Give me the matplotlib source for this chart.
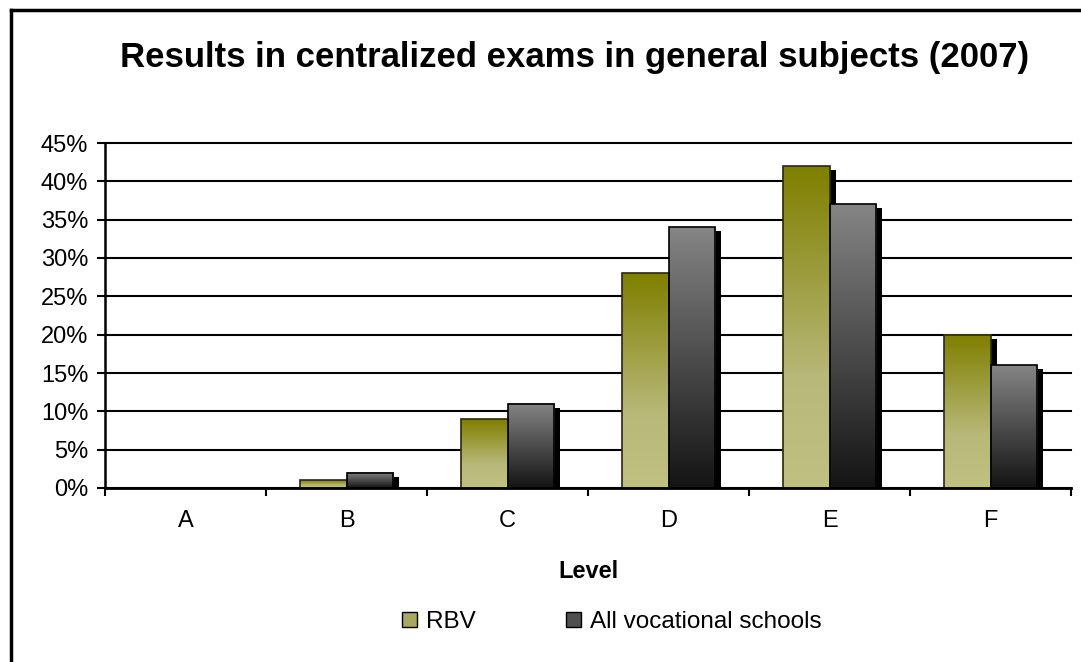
import matplotlib.pyplot as plt
import numpy as np
from matplotlib.colors import LinearSegmentedColormap
from matplotlib.patches import Rectangle, Patch
from matplotlib.lines import Line2D

levels = ['A', 'B', 'C', 'D', 'E', 'F']
rbv = [0, 1, 9, 28, 42, 20]
all_voc = [0, 2, 11, 34, 37, 16]
series_names = ['RBV', 'All vocational schools']

plt.rcParams['font.family'] = ['Liberation Sans', 'DejaVu Sans']

fig = plt.figure(figsize=(10.81, 6.62), dpi=100)
ax = fig.add_axes([105 / 1081, 1 - 488 / 662, 966 / 1081, 345 / 662])

# olive -> khaki, grey -> near black (top to bottom)
cm_rbv = LinearSegmentedColormap.from_list('rbv', [(0, '#c0c080'), (0.35, '#b8b878'), (1, '#7f7f00')])
cm_all = LinearSegmentedColormap.from_list('all', [(0, '#141414'), (1, '#858585')])

w = 0.29
ind = np.arange(len(levels)) + 0.5
sx = 6 / 161          # shadow offset, data units
sy = 4 * 45 / 345

grad = np.linspace(0, 1, 256).reshape(-1, 1)

def draw_bars(xs, vals, cmap, edge):
    for x, v in zip(xs, vals):
        if v <= 0:
            continue
        # shadow
        ax.add_patch(Rectangle((x + sx, 0), w, max(v - sy, 0), facecolor='black',
                               edgecolor='none', zorder=2))
        ax.imshow(grad, cmap=cmap, origin='lower', aspect='auto',
                  extent=[x, x + w, 0, v], zorder=3, interpolation='bilinear')
        ax.add_patch(Rectangle((x, 0), w, v, facecolor='none', edgecolor=edge,
                               linewidth=1.2, zorder=4))

draw_bars(ind - w, rbv, cm_rbv, '#2a2a00')
draw_bars(ind, all_voc, cm_all, '#000000')

ax.set_xlim(0, len(levels))
ax.set_ylim(0, 45)
ax.set_yticks(np.arange(0, 46, 5))
ax.set_yticklabels([f'{t}%' for t in range(0, 46, 5)], fontsize=17)
ax.set_xticks(np.arange(0, len(levels) + 1))
ax.set_xticklabels([])
ax.set_xticks(ind, minor=True)
ax.set_xticklabels(levels, minor=True, fontsize=17)
ax.tick_params(axis='x', which='minor', length=0, pad=16)
ax.tick_params(axis='x', which='major', length=6, width=1.5, direction='out')
ax.tick_params(axis='y', length=6, width=1.5, direction='out', pad=6)
ax.grid(axis='y', color='black', linewidth=1.5, zorder=0)
for gl in ax.get_ygridlines():
    gl.set_clip_on(False)
ax.set_axisbelow(True)
for s in ['top', 'right']:
    ax.spines[s].set_visible(False)
ax.spines['left'].set_linewidth(1.8)
ax.spines['bottom'].set_linewidth(2)
ax.spines['bottom'].set_zorder(5)

ax.set_xlabel('Level', fontsize=17, fontweight='bold', labelpad=20)

fig.text(575 / 1081, 1 - 58 / 662, 'Results in centralized exams in general subjects (2007)',
         ha='center', va='center', fontsize=25, fontweight='bold')

handles = [Patch(facecolor='#a8a860', edgecolor='black'),
           Patch(facecolor='#505050', edgecolor='black')]
fig.legend(handles, series_names, loc='center', bbox_to_anchor=(612 / 1081, 1 - 622 / 662),
           ncol=2, frameon=False, fontsize=17.5, handlelength=0.6, handleheight=0.6,
           handletextpad=0.4, columnspacing=3.7)

# outer chart border (left and top visible)
fig.add_artist(Line2D([11 / 1081, 11 / 1081], [0, 1 - 10 / 662], color='black', linewidth=2.5))
fig.add_artist(Line2D([11 / 1081, 1], [1 - 10 / 662, 1 - 10 / 662], color='black', linewidth=2.5))

fig.savefig('out.png', dpi=100)
